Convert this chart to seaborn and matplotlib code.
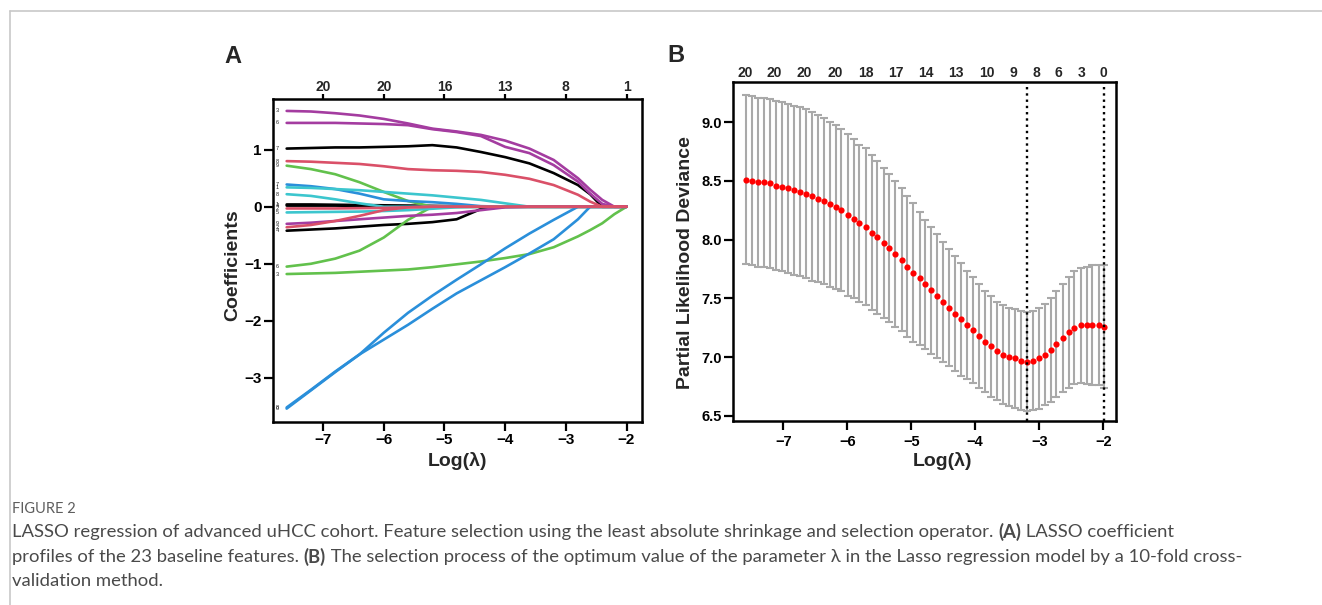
import matplotlib
matplotlib.use("Agg")
import numpy as np
import pandas as pd
import matplotlib.pyplot as plt
import matplotlib.transforms as mtransforms
from matplotlib.lines import Line2D
import seaborn as sns

# ---------------- Panel A: LASSO coefficient paths ----------------
lam_grid_a = [-7.6, -7.2, -6.8, -6.4, -6.0, -5.6, -5.2, -4.8, -4.4, -4.0,
              -3.6, -3.2, -2.8, -2.6, -2.4, -2.2, -2.0]

coef_purple_3 = [1.68, 1.67, 1.64, 1.60, 1.54, 1.46, 1.37, 1.32, 1.26, 1.16, 1.02, 0.82, 0.50, 0.30, 0.12, 0.0, 0.0]
coef_purple_6 = [1.47, 1.47, 1.47, 1.46, 1.45, 1.43, 1.36, 1.31, 1.24, 1.05, 0.94, 0.73, 0.44, 0.23, 0.05, 0.0, 0.0]
coef_black_7 = [1.02, 1.03, 1.04, 1.04, 1.05, 1.06, 1.08, 1.04, 0.96, 0.87, 0.76, 0.59, 0.38, 0.22, 0.0, 0.0, 0.0]
coef_red_8 = [0.80, 0.79, 0.77, 0.75, 0.71, 0.66, 0.64, 0.63, 0.61, 0.56, 0.49, 0.38, 0.21, 0.09, 0.0, 0.0, 0.0]
coef_green_9 = [0.72, 0.66, 0.57, 0.43, 0.26, 0.10, 0.0, 0.0, 0.0, 0.0, 0.0, 0.0, 0.0, 0.0, 0.0, 0.0, 0.0]
coef_blue_7 = [0.39, 0.36, 0.31, 0.23, 0.13, 0.10, 0.08, 0.05, 0.01, 0.0, 0.0, 0.0, 0.0, 0.0, 0.0, 0.0, 0.0]
coef_cyan_1 = [0.34, 0.33, 0.31, 0.29, 0.26, 0.23, 0.20, 0.16, 0.12, 0.06, 0.0, 0.0, 0.0, 0.0, 0.0, 0.0, 0.0]
coef_cyan_8 = [0.22, 0.19, 0.13, 0.06, 0.0, 0.0, 0.0, 0.0, 0.0, 0.0, 0.0, 0.0, 0.0, 0.0, 0.0, 0.0, 0.0]
coef_black_1 = [0.04, 0.04, 0.035, 0.03, 0.025, 0.02, 0.015, 0.01, 0.005, 0.0, 0.0, 0.0, 0.0, 0.0, 0.0, 0.0, 0.0]
coef_black_4 = [0.02, 0.02, 0.02, 0.015, 0.01, 0.01, 0.005, 0.0, 0.0, 0.0, 0.0, 0.0, 0.0, 0.0, 0.0, 0.0, 0.0]
coef_red_2 = [-0.03, -0.03, -0.03, -0.025, -0.02, -0.01, 0.0, 0.0, 0.0, 0.0, 0.0, 0.0, 0.0, 0.0, 0.0, 0.0, 0.0]
coef_cyan_5 = [-0.10, -0.095, -0.09, -0.085, -0.075, -0.06, -0.035, -0.01, 0.0, 0.0, 0.0, 0.0, 0.0, 0.0, 0.0, 0.0, 0.0]
coef_purple_9 = [-0.30, -0.28, -0.25, -0.22, -0.19, -0.16, -0.14, -0.11, -0.06, -0.01, 0.0, 0.0, 0.0, 0.0, 0.0, 0.0, 0.0]
coef_red_2b = [-0.36, -0.32, -0.25, -0.16, -0.06, -0.01, 0.0, 0.0, 0.0, 0.0, 0.0, 0.0, 0.0, 0.0, 0.0, 0.0, 0.0]
coef_black_4b = [-0.42, -0.40, -0.38, -0.35, -0.32, -0.30, -0.27, -0.22, -0.04, 0.0, 0.0, 0.0, 0.0, 0.0, 0.0, 0.0, 0.0]
coef_green_6 = [-1.05, -1.00, -0.91, -0.77, -0.54, -0.23, 0.0, 0.0, 0.0, 0.0, 0.0, 0.0, 0.0, 0.0, 0.0, 0.0, 0.0]
coef_green_3 = [-1.18, -1.17, -1.16, -1.14, -1.12, -1.10, -1.06, -1.01, -0.96, -0.90, -0.83, -0.71, -0.52, -0.41, -0.29, -0.13, 0.0]
coef_blue_0 = [-3.54, -3.22, -2.90, -2.59, -2.21, -1.86, -1.56, -1.28, -1.01, -0.73, -0.47, -0.23, 0.0, 0.0, 0.0, 0.0, 0.0]
coef_blue_8 = [-3.52, -3.21, -2.89, -2.59, -2.33, -2.07, -1.79, -1.52, -1.29, -1.06, -0.82, -0.57, -0.22, 0.0, 0.0, 0.0, 0.0]

# feature id, small label at the left end, colour, coefficient path (drawn in this order)
black, red, green, blue, cyan, purple = "#000000", "#DA5068", "#62C14C", "#2A8FDA", "#3CC6CE", "#A43CA0"
features = [
    ("f01", "7", black, coef_black_7), ("f02", "1", black, coef_black_1), ("f03", "4", black, coef_black_4),
    ("f04", "4", black, coef_black_4b), ("f05", "9", green, coef_green_9), ("f06", "6", green, coef_green_6),
    ("f07", "3", green, coef_green_3), ("f08", "7", blue, coef_blue_7), ("f09", "0", blue, coef_blue_0),
    ("f10", "8", blue, coef_blue_8), ("f11", "1", cyan, coef_cyan_1), ("f12", "8", cyan, coef_cyan_8),
    ("f13", "5", cyan, coef_cyan_5), ("f14", "3", purple, coef_purple_3), ("f15", "6", purple, coef_purple_6),
    ("f16", "9", purple, coef_purple_9), ("f17", "8", red, coef_red_8), ("f18", "2", red, coef_red_2),
    ("f19", "2", red, coef_red_2b),
]
top_ticks_a = [-7, -6, -5, -4, -3, -2]
top_labels_a = ["20", "20", "16", "13", "8", "1"]

# ---------------- Panel B: cross-validation curve ----------------
lam_b = [-7.58, -7.49, -7.39, -7.30, -7.21, -7.11, -7.02, -6.93, -6.83, -6.74,
         -6.65, -6.55, -6.46, -6.37, -6.27, -6.18, -6.09, -5.99, -5.90, -5.81,
         -5.71, -5.62, -5.53, -5.43, -5.34, -5.25, -5.15, -5.06, -4.97, -4.87,
         -4.78, -4.69, -4.59, -4.50, -4.41, -4.31, -4.22, -4.13, -4.03, -3.94,
         -3.85, -3.75, -3.66, -3.57, -3.47, -3.38, -3.29, -3.19, -3.10, -3.01,
         -2.91, -2.82, -2.73, -2.63, -2.54, -2.45, -2.35, -2.26, -2.17, -2.07, -1.98]
cvm = [8.51, 8.50, 8.49, 8.49, 8.48, 8.46, 8.45, 8.44, 8.42, 8.41,
       8.39, 8.37, 8.35, 8.33, 8.30, 8.28, 8.25, 8.21, 8.18, 8.14,
       8.11, 8.06, 8.02, 7.97, 7.93, 7.88, 7.83, 7.77, 7.72, 7.67,
       7.62, 7.57, 7.52, 7.47, 7.42, 7.37, 7.32, 7.27, 7.23, 7.18,
       7.13, 7.09, 7.05, 7.02, 7.00, 6.99, 6.97, 6.96, 6.97, 6.99,
       7.02, 7.06, 7.11, 7.16, 7.21, 7.25, 7.27, 7.27, 7.27, 7.27, 7.26]
cvsd = [0.72, 0.72, 0.72, 0.72, 0.72, 0.72, 0.72, 0.72, 0.72, 0.72,
        0.72, 0.72, 0.71, 0.71, 0.70, 0.70, 0.69, 0.69, 0.68, 0.67,
        0.67, 0.66, 0.65, 0.64, 0.63, 0.62, 0.61, 0.60, 0.59, 0.57,
        0.55, 0.54, 0.53, 0.51, 0.50, 0.49, 0.48, 0.46, 0.45, 0.44,
        0.43, 0.43, 0.42, 0.42, 0.42, 0.42, 0.42, 0.42, 0.42, 0.43,
        0.43, 0.44, 0.45, 0.46, 0.47, 0.48, 0.49, 0.50, 0.51, 0.51, 0.52]
lam_min, lam_1se = -3.19, -1.98
top_pos_b = [-7.60, -7.14, -6.67, -6.19, -5.71, -5.24, -4.77, -4.30, -3.82, -3.40, -3.05, -2.70, -2.34, -2.00]
top_labels_b = ["20", "20", "20", "20", "18", "17", "14", "13", "10", "9", "8", "6", "3", "0"]

caption_title = "FIGURE 2"
caption_lines = [
    [("LASSO regression of advanced uHCC cohort. Feature selection using the least absolute shrinkage and selection operator. ", False),
     ("(A)", True), (" LASSO coefficient", False)],
    [("profiles of the 23 baseline features. ", False), ("(B)", True),
     (" The selection process of the optimum value of the parameter \u03bb in the Lasso regression model by a 10-fold cross-", False)],
    [("validation method.", False)],
]

# ---------------- figure ----------------
sns.set_theme(style="white")
plt.rcParams["font.family"] = ["Liberation Sans", "DejaVu Sans"]
plt.rcParams["font.weight"] = "bold"
plt.rcParams["axes.labelweight"] = "bold"
plt.rcParams["axes.unicode_minus"] = True

W, H = 1322, 605
fig = plt.figure(figsize=(W / 100, H / 100), dpi=100)
fig.patch.set_facecolor("white")


def px_axes(l, t, r, b):
    return fig.add_axes([l / W, 1 - b / H, (r - l) / W, (b - t) / H])


def style_axes(ax, ticksize, pad):
    for s in ax.spines.values():
        s.set_visible(True)
        s.set_color("black")
        s.set_linewidth(1.8)
    ax.tick_params(axis="both", which="both", direction="out", length=6.5, width=1.6,
                   color="black", labelsize=ticksize, pad=pad, bottom=True, left=True,
                   labelcolor="black")
    ax.grid(False)


axA = px_axes(272.7, 99.3, 641.7, 422.3)
axB = px_axes(732.7, 81.7, 1116, 421)

# panel A
rows = []
for fid, lab, col, path in features:
    for x, v in zip(lam_grid_a, path):
        rows.append({"loglam": x, "coef": v, "feature": fid})
dfA = pd.DataFrame(rows)
palette = {fid: col for fid, lab, col, path in features}
sns.lineplot(data=dfA, x="loglam", y="coef", hue="feature",
             hue_order=[f[0] for f in features], palette=palette,
             estimator=None, linewidth=1.9, legend=False, ax=axA)
for fid, lab, col, path in features:
    axA.text(-7.76, path[0], lab, fontsize=4, fontweight="normal", ha="center", va="center")

axA.set_xlim(-7.83, -1.75)
axA.set_ylim(-3.78, 1.884)
axA.set_xticks([-7, -6, -5, -4, -3, -2])
axA.set_yticks([-3, -2, -1, 0, 1])
style_axes(axA, 11, 1.5)
axA.set_xlabel("Log(\u03bb)", fontsize=14)
axA.set_ylabel("Coefficients", fontsize=14)
axA.xaxis.set_label_coords(0.5, -0.092)
axA.yaxis.set_label_coords(-0.085, 0.487)
secA = axA.secondary_xaxis("top")
secA.set_xticks(top_ticks_a, labels=top_labels_a)
secA.tick_params(axis="x", length=3.5, width=1.6, labelsize=10, pad=0, color="black")
secA.spines["top"].set_visible(False)

# panel B
axB.errorbar(lam_b, cvm, yerr=cvsd, fmt="none", ecolor="#A9A9A9",
             elinewidth=1.5, capsize=2.6, capthick=1.5, zorder=2)
sns.scatterplot(x=lam_b, y=cvm, color="#FF0000", s=20, linewidth=0, ax=axB, zorder=3)
axB.axvline(lam_min, color="black", linestyle=":", linewidth=1.7, zorder=4)
axB.axvline(lam_1se, color="black", linestyle=":", linewidth=1.7, zorder=4)
axB.set_xlim(-7.79, -1.80)
axB.set_ylim(6.455, 9.346)
axB.set_xticks([-7, -6, -5, -4, -3, -2])
axB.set_yticks([6.5, 7.0, 7.5, 8.0, 8.5, 9.0])
axB.set_yticklabels(["6.5", "7.0", "7.5", "8.0", "8.5", "9.0"])
style_axes(axB, 10.5, 1.5)
axB.tick_params(axis="x", pad=3.5)
axB.set_xlabel("Log(\u03bb)", fontsize=14)
axB.set_ylabel("Partial Likelihood Deviance", fontsize=14)
axB.xaxis.set_label_coords(0.547, -0.09)
axB.yaxis.set_label_coords(-0.1, 0.466)
secB = axB.secondary_xaxis("top")
secB.set_xticks(top_pos_b, labels=top_labels_b)
secB.tick_params(axis="x", length=0, labelsize=10, pad=1)
secB.spines["top"].set_visible(False)

# panel letters
fig.text(232.5 / W, 1 - 56.5 / H, "A", fontsize=17, fontweight="bold", ha="center", va="center")
fig.text(676 / W, 1 - 55 / H, "B", fontsize=17, fontweight="bold", ha="center", va="center")

# page frame
fig.add_artist(Line2D([10 / W, 10 / W], [0, 1 - 11 / H], color="#C8C8C8", lw=1.2))
fig.add_artist(Line2D([10 / W, 1], [1 - 11 / H, 1 - 11 / H], color="#C8C8C8", lw=1.2))

# caption, drawn run by run in pixel coordinates
ident = mtransforms.IdentityTransform()
renderer = fig.canvas.get_renderer()
cap_font = ["Lato", "DejaVu Sans"]


def draw_runs(x0, y, runs, size, color):
    x = x0
    for txt, bold in runs:
        t = fig.text(x, y, txt, transform=ident, fontsize=size, family=cap_font,
                     fontweight="bold" if bold else "normal", color=color, va="center", ha="left")
        x += t.get_window_extent(renderer).width
    return x


fig.text(12, H - 509, caption_title, transform=ident, fontsize=10.5, family=cap_font,
         fontweight="normal", color="#5E5E5E", va="center", ha="left")
for runs, yc in zip(caption_lines, [532, 557, 581]):
    draw_runs(12, H - yc, runs, 13.3, "#4A4A4A")

fig.savefig("out.png", dpi=100, facecolor="white")
